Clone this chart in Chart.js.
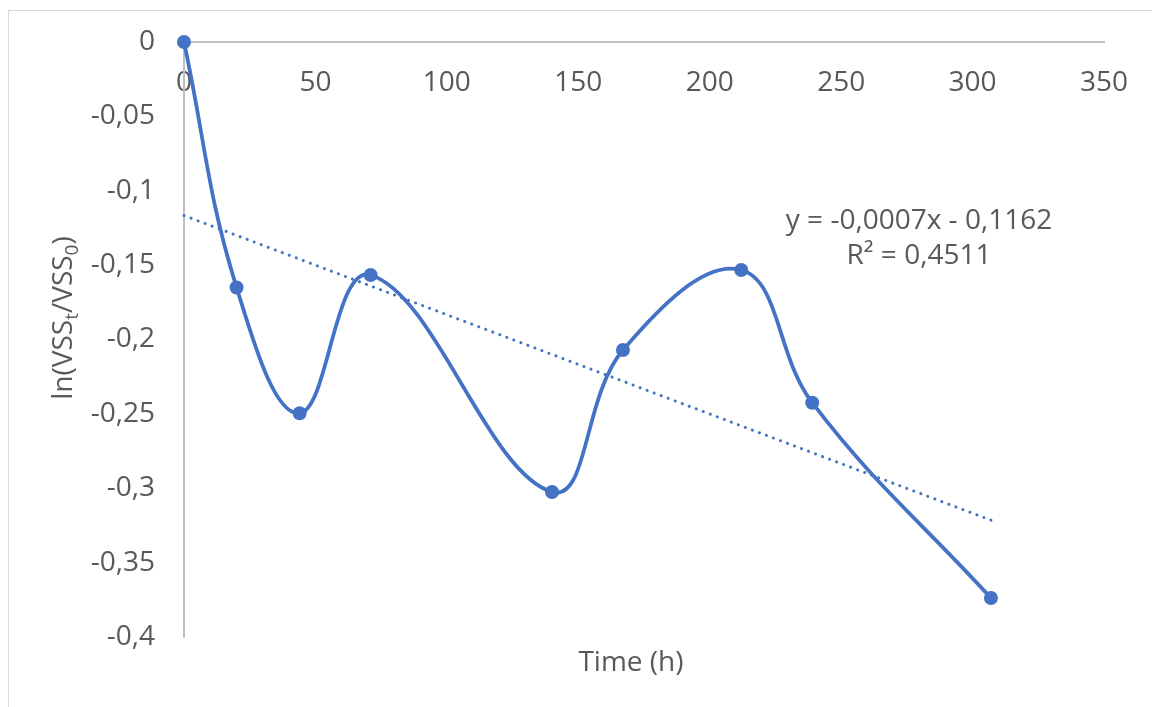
<!DOCTYPE html>
<html>
<head>
<meta charset="utf-8">
<script src="https://cdn.jsdelivr.net/npm/chart.js@4.4.1/dist/chart.umd.min.js"></script>
<style>
    html, body { margin: 0; padding: 0; background: #ffffff; }
    #wrap { width: 1152px; height: 707px; position: relative; }
</style>
</head>
<body>
<div id="wrap"><canvas id="vssChart" width="1152" height="707"></canvas></div>
<script>
// values
const timeH = [0, 20, 44, 71, 140, 167, 212, 239, 307];
const lnRatio = [0, -0.165, -0.2496, -0.1566, -0.3025, -0.2071, -0.1533, -0.2425, -0.3738];

const xMin = 0, xMax = 350, xStep = 50;
const yMin = -0.4, yMax = 0, yStep = 0.05;

const trendText = ['y = -0,0007x - 0,1162', 'R\u00B2 = 0,4511'];
const xTitle = 'Time (h)';

const colors = {
    series: '#4472C4',
    text: '#595959',
    axis: '#BFBFBF',
    frame: '#D9D9D9'
};
const FONT = '"Open Sans", "DejaVu Sans", sans-serif';

// linear least-squares fit (what the Excel trendline shows)
function linearFit(xs, ys) {
    const n = xs.length;
    const mx = xs.reduce((s, v) => s + v, 0) / n;
    const my = ys.reduce((s, v) => s + v, 0) / n;
    let sxy = 0, sxx = 0;
    for (let i = 0; i < n; i++) {
        sxy += (xs[i] - mx) * (ys[i] - my);
        sxx += (xs[i] - mx) * (xs[i] - mx);
    }
    const slope = sxy / sxx;
    return { slope, intercept: my - slope * mx };
}

const fit = linearFit(timeH, lnRatio);
const trendX = [timeH[0], timeH[timeH.length - 1]];
const trendPoints = trendX.map(x => ({ x, y: fit.intercept + fit.slope * x }));

const commaNum = v => String(Math.round(v * 100) / 100).replace('.', ',');

const decorPlugin = {
    id: 'decor',
    beforeDraw(chart) {
        const ctx = chart.ctx;
        ctx.save();
        ctx.fillStyle = '#ffffff';
        ctx.fillRect(0, 0, chart.width, chart.height);
        ctx.strokeStyle = colors.frame;
        ctx.lineWidth = 1;
        ctx.strokeRect(8.5, 10.5, 1300, 900);
        ctx.restore();
    },
    afterDraw(chart) {
        const ctx = chart.ctx;
        ctx.save();
        ctx.fillStyle = colors.text;

        // x title
        ctx.font = '28px ' + FONT;
        ctx.textAlign = 'center';
        ctx.textBaseline = 'middle';
        ctx.fillText(xTitle, 631, 663);

        // trendline label
        ctx.fillText(trendText[0], 919, 221);
        ctx.fillText(trendText[1], 919, 256);

        // y title with subscripts, rotated
        const parts = [
            { t: 'ln(VSS', sub: false },
            { t: 't', sub: true },
            { t: '/VSS', sub: false },
            { t: '0', sub: true },
            { t: ')', sub: false }
        ];
        const mainFont = '28px ' + FONT;
        const subFont = '19px ' + FONT;
        let total = 0;
        parts.forEach(p => {
            ctx.font = p.sub ? subFont : mainFont;
            p.w = ctx.measureText(p.t).width;
            total += p.w;
        });
        ctx.translate(72, 318);
        ctx.rotate(-Math.PI / 2);
        ctx.textAlign = 'left';
        ctx.textBaseline = 'alphabetic';
        let x = -total / 2;
        parts.forEach(p => {
            ctx.font = p.sub ? subFont : mainFont;
            ctx.fillText(p.t, x, p.sub ? 6 : 0);
            x += p.w;
        });
        ctx.restore();
    }
};

new Chart(document.getElementById('vssChart'), {
    type: 'line',
    data: {
        datasets: [
            {
                label: 'ln(VSSt/VSS0)',
                data: timeH.map((t, i) => ({ x: t, y: lnRatio[i] })),
                borderColor: colors.series,
                backgroundColor: colors.series,
                borderWidth: 3.75,
                tension: 0.4,
                pointRadius: 7,
                pointHoverRadius: 7,
                pointBorderWidth: 0,
                pointBackgroundColor: colors.series,
                clip: false,
                order: 2
            },
            {
                label: 'trend',
                data: trendPoints,
                borderColor: colors.series,
                borderWidth: 3,
                borderDash: [0.1, 7.4],
                borderCapStyle: 'round',
                pointRadius: 0,
                tension: 0,
                clip: false,
                order: 1
            }
        ]
    },
    options: {
        responsive: false,
        animation: false,
        layout: { padding: { left: 0, top: 42, right: 48, bottom: 70 } },
        plugins: {
            legend: { display: false },
            tooltip: { enabled: false }
        },
        scales: {
            x: {
                type: 'linear',
                position: { y: 0 },
                min: xMin,
                max: xMax,
                grid: { display: false, drawTicks: false },
                border: { display: true, color: colors.axis, width: 2 },
                ticks: {
                    stepSize: xStep,
                    padding: 24,
                    color: colors.text,
                    font: { family: FONT, size: 28 },
                    maxRotation: 0,
                    callback: v => commaNum(v)
                },
                afterFit: scale => {
                    scale.height = 0;
                    scale.paddingLeft = 0;
                    scale.paddingRight = 0;
                }
            },
            y: {
                type: 'linear',
                position: 'left',
                min: yMin,
                max: yMax,
                grid: { display: false, drawTicks: false },
                border: { display: true, color: colors.axis, width: 2 },
                ticks: {
                    stepSize: yStep,
                    padding: 29,
                    color: colors.text,
                    font: { family: FONT, size: 28 },
                    callback: v => commaNum(v)
                },
                afterFit: scale => {
                    scale.width = 184;
                    scale.paddingTop = 0;
                    scale.paddingBottom = 0;
                }
            }
        }
    },
    plugins: [decorPlugin]
});
</script>
</body>
</html>
